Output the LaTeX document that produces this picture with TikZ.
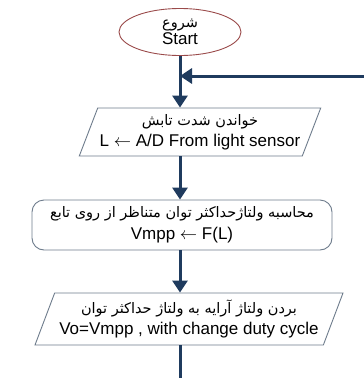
\documentclass[tikz,border=0pt]{standalone}
\usepackage{fontspec}
\setmainfont{Liberation Sans}
\newfontfamily\arabicfont[Script=Arabic]{DejaVu Sans}
\TeXXeTstate=1
\usetikzlibrary{shapes.geometric,arrows.meta}
\definecolor{flowline}{HTML}{1F3B5E}
\definecolor{startedge}{HTML}{9A4A4A}
\definecolor{boxedge}{HTML}{6E7C8C}
\newcommand{\fa}[1]{{\arabicfont\fontsize{14.5}{17}\selectfont\beginR #1\endR}}
\newcommand{\getsfrom}{$\leftarrow$}
\tikzset{
  every node/.style={font=\fontsize{17}{20}\selectfont, align=center, inner sep=2pt},
  terminal/.style={ellipse, draw=startedge, line width=0.9pt, fill=white,
    minimum width=122pt, minimum height=47pt},
  iobox/.style={trapezium, trapezium stretches body, trapezium left angle=65,
    trapezium right angle=115, draw=boxedge, line width=0.9pt, fill=white},
  procbox/.style={rectangle, rounded corners=12pt, draw=boxedge, line width=0.9pt,
    fill=white, minimum width=300pt, minimum height=50pt},
  flow/.style={draw=flowline, line width=3pt},
  flowarrow/.style={flow, -{Triangle[width=15pt,length=12pt]}},
}
\begin{document}
\begin{tikzpicture}[x=1pt,y=-1pt]
  \useasboundingbox (0,0) rectangle (364,378);

  \node[terminal] (start) at (180,32) {\fa{شروع}\\[-3pt]Start};

  \node[iobox, minimum width=212pt, minimum height=48pt] (read) at (200,132)
    {\fa{خواندن شدت تابش}\\[1pt]L \getsfrom{} A/D From light sensor};

  \node[procbox] (calc) at (182,225)
    {\fa{محاسبه ولتاژحداکثر توان متناظر از روی تابع}\\[2pt]Vmpp \getsfrom{} F(L)};

  \node[iobox, minimum width=308pt, minimum height=52pt] (set) at (189,319)
    {\fa{بردن ولتاژ آرایه به ولتاژ حداکثر توان}\\[1pt]Vo=Vmpp , with change duty cycle};

  \coordinate (join) at (start.south |- 0,76);
  \coordinate (loopin) at (364,76);
  \coordinate (outend) at (180,378);

  \draw[flow] (start.south) -- (join);
  \draw[flowarrow] (join) -- (join |- read.north);
  \draw[flowarrow] (loopin) -- (join);
  \draw[flowarrow] (join |- read.south) -- (join |- calc.north);
  \draw[flowarrow] (join |- calc.south) -- (join |- set.north);
  \draw[flow] (join |- set.south) -- (outend);
\end{tikzpicture}
\end{document}
